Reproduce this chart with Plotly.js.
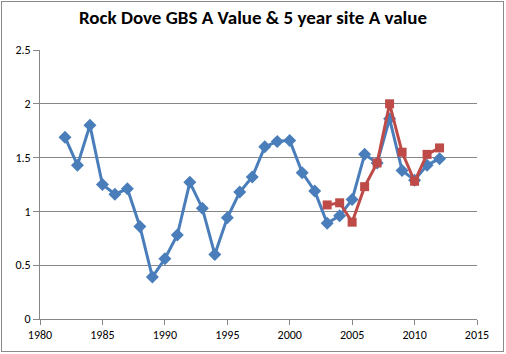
<!DOCTYPE html>
<html><head><meta charset="utf-8">
<script src="https://cdn.plot.ly/plotly-3.0.1.min.js"></script>
<style>
html,body{margin:0;padding:0;background:#fff;}
#wrap{position:relative;width:506px;height:354px;}
#chart{width:506px;height:354px;}
#frame{position:absolute;left:1px;top:1px;width:501px;height:349px;border:1px solid #8a8a8a;pointer-events:none;}
</style></head>
<body>
<div id="wrap"><div id="chart"></div><div id="frame"></div></div>
<script>
const gbsYears = [1982,1983,1984,1985,1986,1987,1988,1989,1990,1991,1992,1993,1994,1995,1996,1997,1998,1999,2000,2001,2002,2003,2004,2005,2006,2007,2008,2009,2010,2011,2012];
const gbsValues = [1.69,1.43,1.80,1.25,1.16,1.21,0.86,0.39,0.56,0.78,1.27,1.03,0.60,0.94,1.18,1.32,1.60,1.65,1.66,1.36,1.19,0.89,0.96,1.11,1.53,1.45,1.86,1.38,1.29,1.43,1.49];
const siteYears = [2003,2004,2005,2006,2007,2008,2009,2010,2011,2012];
const siteValues = [1.06,1.08,0.90,1.23,1.45,2.00,1.55,1.28,1.53,1.59];
const chartTitle = "Rock Dove GBS A Value & 5 year site A value";

const traces = [
  {x: gbsYears, y: gbsValues, type:'scatter', mode:'lines+markers', name:'GBS A Value',
   line:{color:'#4A7EBB', width:3}, marker:{symbol:'diamond', size:10, color:'#4A7EBB'}},
  {x: siteYears, y: siteValues, type:'scatter', mode:'lines+markers', name:'5 year site A value',
   line:{color:'#BE4B48', width:3}, marker:{symbol:'square', size:9, color:'#BE4B48'}}
];
const axisFont = {family:'Carlito, Lato, "Liberation Sans", sans-serif', size:12, color:'#000'};
const layout = {
  width:506, height:354,
  margin:{l:40, r:29, t:50, b:35},
  paper_bgcolor:'#fff', plot_bgcolor:'#fff',
  showlegend:false,
  title:{text:'<b>'+chartTitle+'</b>', x:0.5, xanchor:'center', y:0.95, yanchor:'middle',
         font:{family:'Carlito, Lato, "Liberation Sans", sans-serif', size:19, color:'#000'}},
  xaxis:{range:[1980,2015], tickvals:[1980,1985,1990,1995,2000,2005,2010,2015],
         showgrid:false, zeroline:false, showline:true, linecolor:'#868686', linewidth:1,
         ticks:'outside', ticklen:5, tickcolor:'#868686', tickfont:axisFont},
  yaxis:{range:[0,2.5], tickvals:[0,0.5,1,1.5,2,2.5], ticktext:['0','0.5','1','1.5','2','2.5'],
         showgrid:true, gridcolor:'#868686', gridwidth:1, zeroline:false,
         showline:true, linecolor:'#868686', linewidth:1,
         ticks:'outside', ticklen:6, tickcolor:'#868686', tickfont:axisFont}
};
Plotly.newPlot('chart', traces, layout, {displayModeBar:false, staticPlot:true});
</script>
</body></html>
